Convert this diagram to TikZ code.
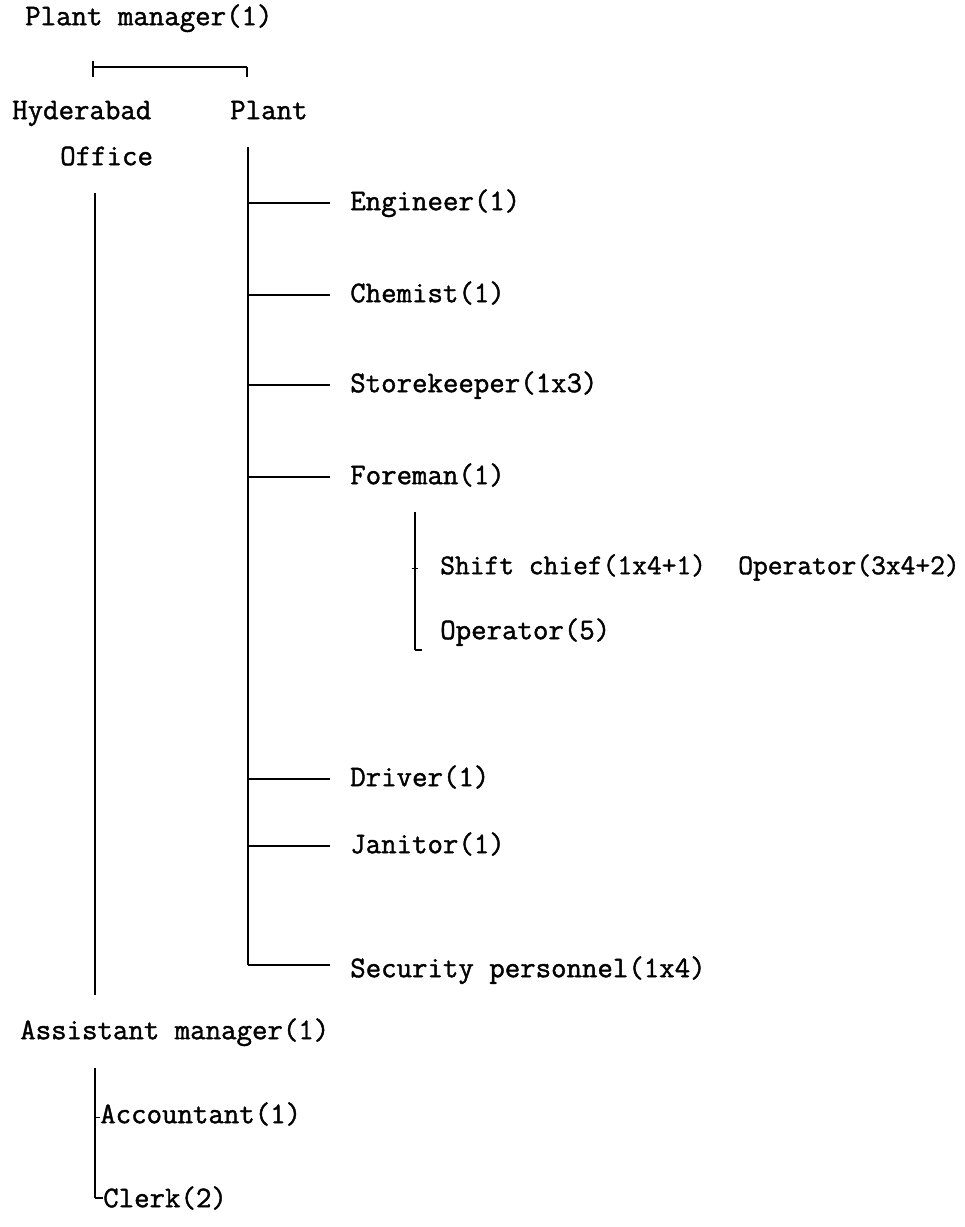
\documentclass[tikz,border=0pt]{standalone}
\usepackage{fontspec}
\setmainfont[FakeBold=1.4]{Latin Modern Mono}
\begin{document}
\begin{tikzpicture}[x=0.75pt,y=-0.75pt,
 lbl/.style={anchor=west,inner sep=0pt,text height=0.68em,text depth=0.2em,font=\fontsize{22.5}{25}\selectfont},
 lblsm/.style={lbl,font=\fontsize{21.5}{24}\selectfont},
 vline/.style={line width=2pt},
 hline/.style={line width=0.9pt},
 tick/.style={line width=1.1pt}]
\path[use as bounding box] (0,0) rectangle (964,1227);
% top
\node[lbl] (pm) at (25,22) {Plant manager(1)};
\node[lbl] (hyd) at (12,116) {Hyderabad};
\node[lbl] (plant) at (230,116) {Plant};
\node[lbl] (off) at (60,162) {Office};
% plant branch
\node[lbl] (eng) at (350,207) {Engineer(1)};
\node[lbl] (chem) at (350,299) {Chemist(1)};
\node[lbl] (store) at (350,389) {Storekeeper(1x3)};
\node[lbl] (fore) at (350,481) {Foreman(1)};
\node[lblsm] (shift) at (440,571) {Shift chief(1x4+1)};
\node[lblsm] (op1) at (738,571) {Operator(3x4+2)};
\node[lbl] (op5) at (440,636) {Operator(5)};
\node[lbl] (drv) at (350,783) {Driver(1)};
\node[lbl] (jan) at (350,850) {Janitor(1)};
\node[lbl] (sec) at (350,974) {Security personnel(1x4)};
% office branch
\node[lbl] (am) at (20,1036) {Assistant manager(1)};
\node[lbl] (acc) at (100,1120) {Accountant(1)};
\node[lbl] (clerk) at (103,1204) {Clerk(2)};
% bracket under plant manager
\coordinate (bl) at (93,67);
\coordinate (br) at (247,67);
\draw[hline] (bl) -- (br);
\draw[tick] ([yshift=4.5pt]bl) -- ([yshift=-7.5pt]bl);
\draw[tick] (br) -- ([yshift=-7.5pt]br);
% plant vertical line
\coordinate (ptop) at (248,147);
\coordinate (pbot) at (248,965);
\draw[vline] (ptop) -- (pbot);
\draw[hline] (pbot) -- ([xshift=-15pt]sec.west |- pbot);
\foreach \n in {eng,chem,store,fore,drv,jan}{
  \draw[hline] (ptop |- \n.west) ++(0,-4) -- ([xshift=-15pt,yshift=3pt]\n.west);
}
% foreman sub branch
\coordinate (ftop) at (415,512);
\coordinate (fbot) at (415,650);
\draw[vline] (ftop) -- (fbot);
\draw[tick] (fbot) -- ++(7,0);
\draw[tick] ([xshift=-2.5pt,yshift=2pt]ftop |- shift.west) -- ++(6,0);
% office vertical line
\coordinate (otop) at (95,193);
\coordinate (obot) at (95,995);
\draw[vline] (otop) -- (obot);
% assistant sub branch
\coordinate (atop) at (95,1068);
\coordinate (abot) at (95,1198);
\draw[vline] (atop) -- (abot);
\draw[tick] (abot) -- (clerk.west |- abot);
\draw[tick] ([yshift=2pt]atop |- acc.west) -- ([yshift=2pt]acc.west);
\end{tikzpicture}
\end{document}
